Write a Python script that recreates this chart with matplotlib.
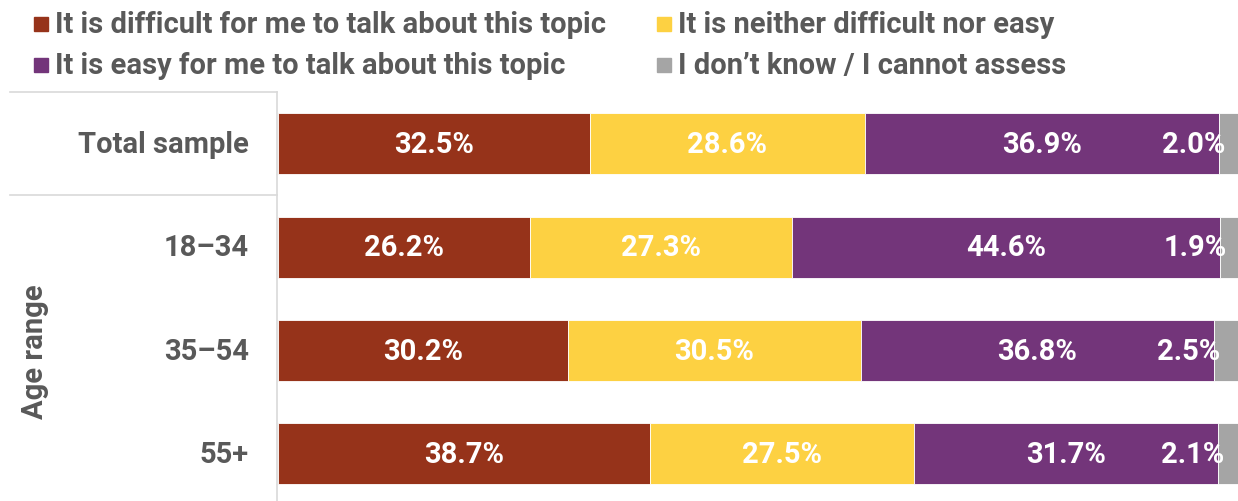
import matplotlib
matplotlib.use('Agg')
from matplotlib import pyplot as plt
from matplotlib.patches import Rectangle
from matplotlib.lines import Line2D

plt.rcParams['font.family'] = ['Roboto', 'DejaVu Sans']

groups = ['Total sample', '18–34', '35–54', '55+']
difficult = [32.5, 26.2, 30.2, 38.7]
neither = [28.6, 27.3, 30.5, 27.5]
easy = [36.9, 44.6, 36.8, 31.7]
dont_know = [2.0, 1.9, 2.5, 2.1]

series = [
    ('It is difficult for me to talk about this topic', difficult, '#96331A'),
    ('It is neither difficult nor easy', neither, '#FDD142'),
    ('It is easy for me to talk about this topic', easy, '#73357A'),
    ('I don’t know / I cannot assess', dont_know, '#A5A5A5'),
]

text_grey = '#595959'
line_grey = '#D9D9D9'
fs = 21

W, H = 1238, 502
fig = plt.figure(figsize=(W / 100, H / 100), dpi=100)
ax = fig.add_axes([278 / W, 0, 1 - 278 / W, (H - 93) / H])

ypos = list(range(len(groups)))
left = [0] * len(groups)
for name, vals, col in series:
    ax.barh(ypos, vals, left=left, height=0.59, color=col,
            edgecolor='white', linewidth=0.6, label=name)
    for i, (l, v) in enumerate(zip(left, vals)):
        if name.startswith('I don'):
            ax.text(l + 0.7, i, f'{v:.1f}%', ha='right', va='center',
                    color='white', fontsize=fs, fontweight='bold')
        else:
            ax.text(l + v / 2, i, f'{v:.1f}%', ha='center', va='center',
                    color='white', fontsize=fs, fontweight='bold')
    left = [a + b for a, b in zip(left, vals)]

ax.set_xlim(0, 100)
ax.set_ylim(3.455, -0.503)
ax.axis('off')

# row headers on the left
for yy in ypos:
    y_fig = (H - (145 + 103.4 * yy)) / H
    fig.text(249 / W, y_fig, groups[yy], ha='right', va='center',
             color=text_grey, fontsize=fs, fontweight='bold')
fig.text(35 / W, (H - 352) / H, 'Age range', rotation=90, ha='center',
         va='center', color=text_grey, fontsize=fs, fontweight='bold')

for y in (93, 196):
    fig.add_artist(Line2D([10 / W, 277 / W], [(H - y) / H] * 2,
                          color=line_grey, lw=1.2))
fig.add_artist(Line2D([277 / W] * 2, [0, (H - 93) / H], color=line_grey, lw=1.2))

# legend, two rows by two columns
spots = [(34, 25), (657, 25), (34, 66), (657, 66)]
for (name, _, col), (x, y) in zip(series, spots):
    fig.add_artist(Rectangle((x / W, (H - y - 7) / H), 14 / W, 14 / H,
                             color=col, transform=fig.transFigure))
    fig.text((x + 21) / W, (H - y) / H, name, ha='left', va='center',
             color=text_grey, fontsize=fs, fontweight='bold')

fig.savefig('out.png', dpi=100)
